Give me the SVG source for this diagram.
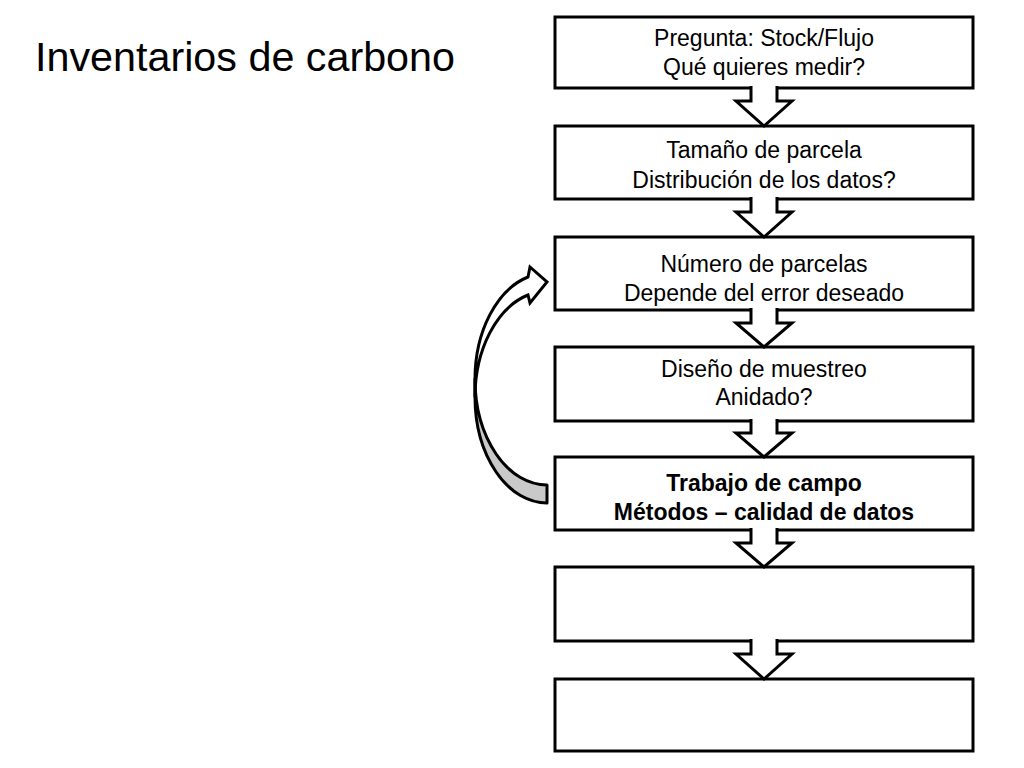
<svg xmlns="http://www.w3.org/2000/svg" width="1024" height="768" viewBox="0 0 1024 768">
<style>
.box{fill:#fff;stroke:#000;stroke-width:3}
.arr{fill:#fff;stroke:#000;stroke-width:3;stroke-linejoin:miter}
.t{font-family:"Liberation Sans",Arial,sans-serif;font-size:23px;fill:#000;text-anchor:middle}
.b{font-weight:bold}
.title{font-family:"Liberation Sans",Arial,sans-serif;font-size:41px;fill:#000}
</style>
<rect width="1024" height="768" fill="#fff"/>
<text class="title" x="35" y="71" textLength="420" lengthAdjust="spacingAndGlyphs">Inventarios de carbono</text>

<g id="n1"><rect class="box" x="555" y="17" width="418" height="71"/>
<text class="t" x="764" y="46">Pregunta: Stock/Flujo</text><text class="t" x="764" y="75">Qué quieres medir?</text></g>
<g id="n2"><rect class="box" x="555" y="126" width="418" height="73"/>
<text class="t" x="764" y="158">Tamaño de parcela</text><text class="t" x="764" y="188">Distribución de los datos?</text></g>
<g id="n3"><rect class="box" x="555" y="237" width="418" height="73"/>
<text class="t" x="764" y="272">Número de parcelas</text><text class="t" x="764" y="301">Depende del error deseado</text></g>
<g id="n4"><rect class="box" x="555" y="347" width="418" height="74"/>
<text class="t" x="764" y="377">Diseño de muestreo</text><text class="t" x="764" y="405">Anidado?</text></g>
<g id="n5"><rect class="box" x="555" y="457" width="418" height="73"/>
<text class="t b" x="764" y="491">Trabajo de campo</text><text class="t b" x="764" y="520">Métodos – calidad de datos</text></g>
<g id="n6"><rect class="box" x="555" y="567" width="418" height="74"/></g>
<g id="n7"><rect class="box" x="555" y="679" width="418" height="72"/></g>

<g id="connectors">
<path class="arr" d="M751,86 V101 H736 L764,126 L792,101 H777 V86"/>
<path class="arr" d="M751,197 V212 H736 L764,237 L792,212 H777 V197"/>
<path class="arr" d="M751,308 V323 H736 L764,347 L792,323 H777 V308"/>
<path class="arr" d="M751,419 V433 H736 L764,457 L792,433 H777 V419"/>
<path class="arr" d="M751,528 V543 H736 L764,567 L792,543 H777 V528"/>
<path class="arr" d="M751,639 V654 H736 L764,679 L792,654 H777 V639"/>
<g id="loop">
<path d="M547,503 A72,105.9 0 0 1 475,397.1 L475,379.1 A72,105.9 0 0 0 547,485 Z" fill="#c9c9c9" stroke="#000" stroke-width="3" stroke-linejoin="round"/>
<path d="M528,277 A72,105.9 0 0 0 475,379.1 L475,397.1 A72,105.9 0 0 1 528,295 L530,303 L547,282 L530,267 Z" fill="#fff" stroke="#000" stroke-width="3" stroke-linejoin="miter"/>
</g>
</g>
</svg>
